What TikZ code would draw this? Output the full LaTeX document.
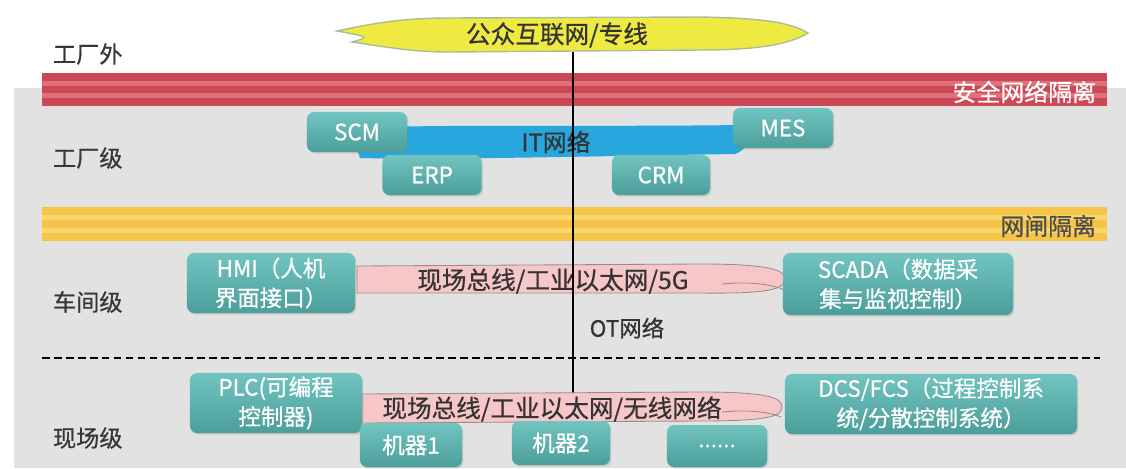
\documentclass[tikz,border=0pt]{standalone}
\usepackage{fontspec}
\setmainfont{Noto Sans CJK SC}[FakeBold=0.6]
\usetikzlibrary{shadows}
\definecolor{bggray}{RGB}{226,226,226}
\definecolor{secred}{RGB}{204,72,86}
\definecolor{secredlt}{RGB}{222,112,120}
\definecolor{gapyellow}{RGB}{246,196,70}
\definecolor{gapyellowlt}{RGB}{250,214,110}
\definecolor{cloudyel}{RGB}{238,234,66}
\definecolor{cloudrim}{RGB}{168,190,150}
\definecolor{itblue}{RGB}{40,166,222}
\definecolor{buspink}{RGB}{246,198,200}
\definecolor{busrim}{RGB}{150,140,140}
\definecolor{boxtop}{RGB}{114,196,192}
\definecolor{boxbot}{RGB}{76,158,154}
\definecolor{labelgray}{RGB}{55,55,55}

\begin{document}
\begin{tikzpicture}[x=0.025cm, y=-0.025cm,
    level/.style={anchor=west, text=labelgray, font=\fontsize{16.5}{19}\selectfont},
    sysbox/.style={rectangle, rounded corners=5pt, top color=boxtop, bottom color=boxbot,
        text=white, align=center, inner sep=0pt, font=\fontsize{16}{21}\selectfont,
        drop shadow={opacity=0.25, shadow xshift=1pt, shadow yshift=-1.2pt}},
    bustext/.style={text=black!80, font=\fontsize{17.5}{20}\selectfont},
    bandtext/.style={anchor=east, font=\fontsize{17}{20}\selectfont}
]
    \useasboundingbox (0,0) rectangle (1126,468);

    % background and isolation bands
    \fill[bggray] (14,88) rectangle (1126,468);
    \fill[secred] (42,73) rectangle (1107,106);
    \fill[secredlt] (42,81) rectangle (1107,86);
    \fill[secredlt] (42,93) rectangle (1107,98);
    \node[bandtext, text=white] (secnote) at (1101,92) {安全网络隔离};
    \fill[gapyellow] (42,207) rectangle (1107,241);
    \fill[gapyellowlt] (42,215) rectangle (1107,220);
    \fill[gapyellowlt] (42,228) rectangle (1107,233);
    \node[bandtext, text=black!70] (gapnote) at (1101,226) {网闸隔离};

    % levels
    \node[level] (outside) at (48,54) {工厂外};
    \node[level] (factory) at (48,158) {工厂级};
    \node[level] (workshop) at (48,302) {车间级};
    \node[level] (field) at (48,438) {现场级};

    % public network cloud
    \filldraw[fill=cloudyel, draw=cloudrim, line width=1pt]
        (337,31) .. controls (370,24) and (400,18) .. (450,18) -- (700,17)
        .. controls (760,18) and (790,22) .. (808,33)
        .. controls (790,44) and (760,50) .. (700,50) -- (450,52)
        .. controls (410,52) and (380,46) .. (352,42)
        .. controls (370,37) .. (337,31) -- cycle;
    \node[bustext] (inet) at (557,35) {公众互联网/专线};

    % IT network
    \fill[itblue] (350,128) .. controls (450,124) and (600,127) .. (740,125)
        .. controls (752,135) and (748,150) .. (735,154)
        .. controls (600,156) and (450,160) .. (360,158) -- cycle;
    \node[text=black!80, font=\fontsize{17}{20}\selectfont] (itnet) at (556,142) {IT网络};

    % OT buses
    \filldraw[fill=buspink, draw=busrim, line width=0.6pt]
        (357,266) -- (700,264) .. controls (770,264) and (785,270) .. (785,279)
        .. controls (785,289) and (770,294) .. (700,293) -- (357,293) -- cycle;
    \draw[busrim, line width=0.6pt] (722,284) .. controls (752,281) and (775,285) .. (784,290);
    \node[bustext] (bus1) at (553,281) {现场总线/工业以太网/5G};

    \coordinate (lntop) at (573,52);
    \coordinate (lnbot) at (573,396);
    \draw[line width=1pt] (lntop) -- (lnbot);
    \node[text=black!80, font=\fontsize{16}{19}\selectfont] (otnet) at (627,328) {OT网络};

    \filldraw[fill=buspink, draw=busrim, line width=0.6pt]
        (362,394) -- (700,392) .. controls (770,392) and (782,398) .. (782,407)
        .. controls (782,416) and (770,421) .. (700,421) -- (362,423) -- cycle;
    \draw[busrim, line width=0.6pt] (722,412) .. controls (752,409) and (772,413) .. (781,417);
    \node[bustext] (bus2) at (552,409) {现场总线/工业以太网/无线网络};

    % level divider
    \draw[line width=1.6pt, dash pattern=on 5.5pt off 3pt] (42,358) -- (1100,358);

    % systems
    \node[sysbox, minimum width=2.5cm, minimum height=1cm] (scm) at (357,132) {SCM};
    \node[sysbox, minimum width=2.5cm, minimum height=1cm] (mes) at (783,128) {MES};
    \node[sysbox, minimum width=2.48cm, minimum height=1cm] (erp) at (432,175) {ERP};
    \node[sysbox, minimum width=2.45cm, minimum height=1cm] (crm) at (661,175) {CRM};
    \node[sysbox, minimum width=4.2cm, minimum height=1.5cm] (hmi) at (271,283) {HMI（人机\\界面接口）};
    \node[sysbox, minimum width=5.75cm, minimum height=1.55cm] (scada) at (898,284) {SCADA（数据采\\集与监视控制）};
    \node[sysbox, minimum width=4.3cm, minimum height=1.5cm] (plc) at (276,403) {PLC(可编程\\控制器)};
    \node[sysbox, minimum width=7.3cm, minimum height=1.5cm] (dcs) at (931,404) {DCS/FCS（过程控制系\\统/分散控制系统）};
    \node[sysbox, minimum width=2.55cm, minimum height=1.1cm] (mach1) at (411,445) {机器1};
    \node[sysbox, minimum width=2.45cm, minimum height=1.1cm] (mach2) at (561,443) {机器2};
    \node[sysbox, minimum width=2.5cm, minimum height=1.05cm] (machn) at (717,446) {......};
\end{tikzpicture}
\end{document}
